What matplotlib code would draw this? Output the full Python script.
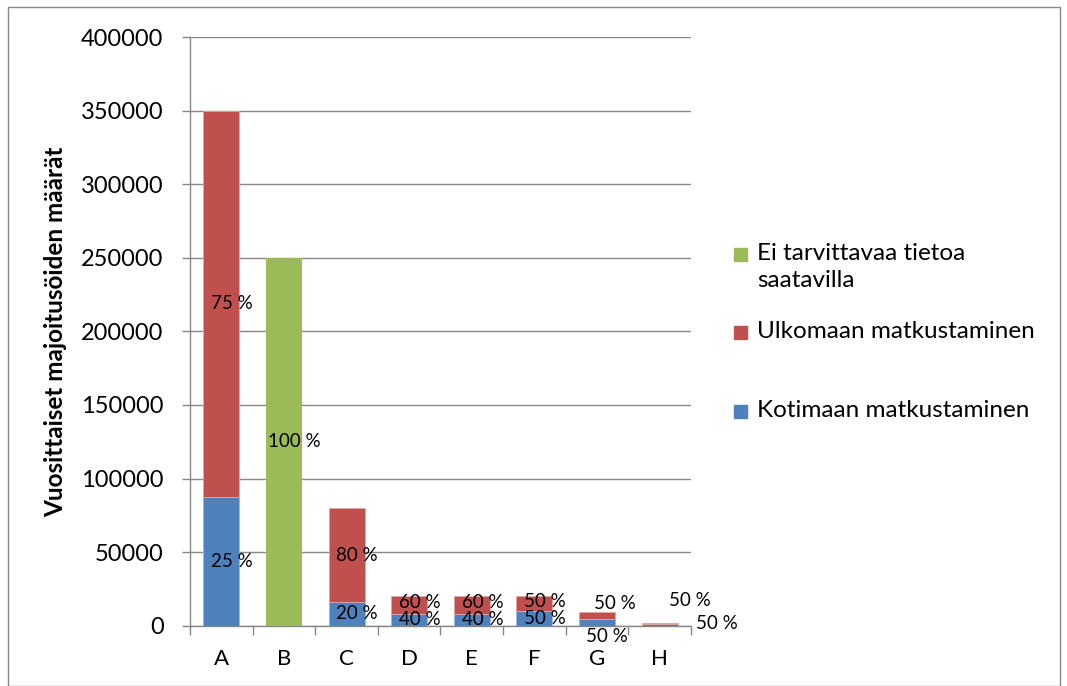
import matplotlib.pyplot as plt
import numpy as np
from matplotlib.patches import Rectangle

plt.rcParams['font.family'] = ['Lato', 'DejaVu Sans']

# data
kategoriat = ['A', 'B', 'C', 'D', 'E', 'F', 'G', 'H']
kotimaa = [87500, 0, 16000, 8000, 8000, 10000, 4500, 1000]
ulkomaa = [262500, 0, 64000, 12000, 12000, 10000, 4500, 1000]
ei_tietoa = [0, 250000, 0, 0, 0, 0, 0, 0]
koti_pros = ['25 %', '', '20 %', '40 %', '40 %', '50 %', '50 %', '50 %']
ulko_pros = ['75 %', '', '80 %', '60 %', '60 %', '50 %', '50 %', '50 %']
ei_pros = ['', '100 %', '', '', '', '', '', '']
selitteet = ['Ei tarvittavaa tietoa\nsaatavilla', 'Ulkomaan matkustaminen', 'Kotimaan matkustaminen']

SININEN = '#4F81BD'
PUNAINEN = '#C0504D'
VIHREA = '#9BBB59'

fig = plt.figure(figsize=(10.67, 6.86), dpi=100)
ax = fig.add_axes([190/1067, 1-625.7/686, 501/1067, (625.7-37)/686])

x = np.arange(len(kategoriat))
w = 0.575
kot = np.array(kotimaa)
ulk = np.array(ulkomaa)
ei = np.array(ei_tietoa)
b1 = ax.bar(x, kot, w, color=SININEN, edgecolor='#9DB6DA', linewidth=0.6, zorder=3)
b2 = ax.bar(x, ulk, w, bottom=kot, color=PUNAINEN, edgecolor='#E0A6A4', linewidth=0.6, zorder=3)
b3 = ax.bar(x, ei, w, bottom=kot + ulk, color=VIHREA, linewidth=0, zorder=3)

# data labels (G and H placed outside like in the original)
fs_lab = 13.5
dx = 0.17
for i in range(6):
    if koti_pros[i]:
        ax.text(x[i] + dx, kot[i] / 2, koti_pros[i], ha='center', va='center',
                fontsize=fs_lab, zorder=4)
    if ulko_pros[i]:
        ax.text(x[i] + dx, kot[i] + ulk[i] / 2 + (1500 if kot[i] + ulk[i] < 30000 else 0),
                ulko_pros[i], ha='center', va='center', fontsize=fs_lab, zorder=4)
    if ei_pros[i]:
        ax.text(x[i] + dx, ei[i] / 2, ei_pros[i], ha='center', va='center',
                fontsize=fs_lab, zorder=4)
ax.text(x[6] + 0.28, 15000, ulko_pros[6], ha='center', va='center', fontsize=fs_lab, clip_on=False)
ax.text(x[6] + 0.16, -7500, koti_pros[6], ha='center', va='center', fontsize=fs_lab, clip_on=False)
ax.text(x[7] + 0.48, 17000, ulko_pros[7], ha='center', va='center', fontsize=fs_lab, clip_on=False)
ax.text(x[7] + 0.92, 1300, koti_pros[7], ha='center', va='center', fontsize=fs_lab, clip_on=False)

ax.set_xlim(-0.5, 7.5)
ax.set_ylim(0, 400000)
ax.set_yticks(np.arange(0, 400001, 50000))
ax.set_yticklabels([str(v) for v in range(0, 400001, 50000)], fontsize=17)
ax.yaxis.grid(True, color='#878787', linewidth=1, zorder=0)
ax.set_axisbelow(True)

ax.set_xticks(x)
ax.set_xticklabels(kategoriat, fontsize=16)
ax.tick_params(axis='x', length=0, pad=17)
ax.set_xticks(np.arange(-0.5, 8, 1), minor=True)
ax.tick_params(axis='x', which='minor', length=6.5, color='#878787', width=1)
ax.tick_params(axis='y', length=6, color='#878787', width=1, pad=13)

for s in ['top', 'right']:
    ax.spines[s].set_visible(False)
for s in ['left', 'bottom']:
    ax.spines[s].set_color('#878787')
    ax.spines[s].set_linewidth(1)

ax.set_ylabel('Vuosittaiset majoitusöiden määrät', fontsize=17.5, fontweight='bold', labelpad=10)

# legend drawn by hand to keep Excel-like spacing
leg_y = [255, 333, 412]
for vari, teksti, yy in zip([VIHREA, PUNAINEN, SININEN], selitteet, leg_y):
    fig.add_artist(Rectangle((734/1067, 1-(yy+6)/686), 13/1067, 13/686,
                             transform=fig.transFigure, color=vari))
    fig.text(757/1067, 1-(yy-12)/686, teksti, ha='left', va='top', fontsize=17.5,
             linespacing=1.35)

# chart border
fig.patches.append(Rectangle((8/1067, 0), 1052/1067, 1-7/686, transform=fig.transFigure,
                             fill=False, edgecolor='#878787', linewidth=1))

fig.savefig('out.png', dpi=100)
